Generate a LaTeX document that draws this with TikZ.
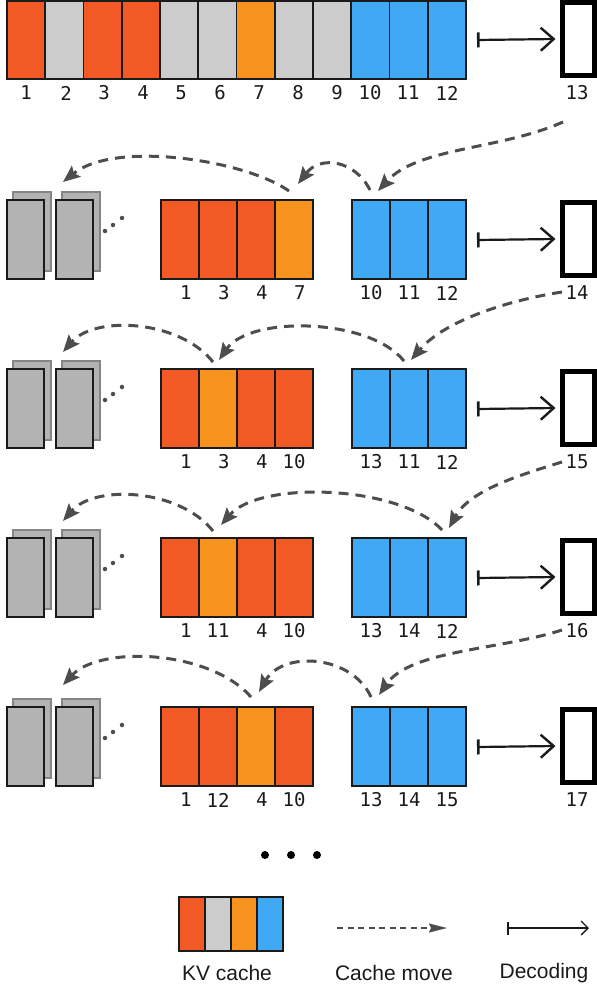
\documentclass[tikz,border=0pt]{standalone}
\usepackage{fontspec}
\setmainfont{Liberation Sans}
\newfontfamily\monofnt{DejaVu Sans Mono}
\usetikzlibrary{arrows.meta}
\definecolor{kvred}{HTML}{F15A24}
\definecolor{kvgray}{HTML}{CCCCCC}
\definecolor{kvorange}{HTML}{F7931E}
\definecolor{kvblue}{HTML}{3FA9F5}
\definecolor{offgray}{HTML}{B3B3B3}
\definecolor{offedge}{HTML}{858585}
\definecolor{movegray}{HTML}{4D4D4D}
\definecolor{inkc}{HTML}{1A1A1A}
\newcommand\padnum[1]{\phantom{0}#1}
\begin{document}
\begin{tikzpicture}[x=1pt,y=1pt,
  cell/.style={draw=inkc, line width=1.6pt, inner sep=0pt, outer sep=0pt,
    minimum width=38pt, minimum height=79pt, anchor=north west},
  topcell/.style={cell, minimum width=38.25pt, minimum height=78pt},
  outbox/.style={draw=black, line width=5pt, fill=white, inner sep=0pt, outer sep=0pt,
    minimum width=32pt, minimum height=73pt, anchor=north west},
  backbox/.style={draw=offedge, fill=offgray, line width=1.5pt, inner sep=0pt, outer sep=0pt,
    minimum width=38pt, minimum height=79pt, anchor=north west},
  frontbox/.style={draw=inkc, fill=offgray, line width=1.6pt, inner sep=0pt, outer sep=0pt,
    minimum width=37pt, minimum height=79pt, anchor=north west},
  num/.style={font=\monofnt\fontsize{19}{22}\selectfont, text=inkc, inner sep=0pt},
  legtext/.style={font=\fontsize{21}{24}\selectfont, text=inkc, inner sep=0pt},
  decode/.style={draw=inkc, line width=2.2pt,
    {Bar[width=15pt,line width=2.6pt]}-{Straight Barb[length=13pt,width=23pt,line width=2.4pt]}},
  move/.style={draw=movegray, line width=3pt, dash pattern=on 10pt off 7pt,
    -{Stealth[length=17pt,width=14pt,inset=3pt]}},
  smalldot/.style={circle, fill=movegray, inner sep=0pt, minimum size=4.5pt},
  bigdot/.style={circle, fill=black, inner sep=0pt, minimum size=8pt}
]
\useasboundingbox (0,0) rectangle (597,-991);

% ---------- top row ----------
\foreach \i/\c in {1/kvred,2/kvgray,3/kvred,4/kvred,5/kvgray,6/kvgray,7/kvorange,8/kvgray,9/kvgray,10/kvblue,11/kvblue,12/kvblue}{
  \node[topcell, fill=\c] (t\i) at ({7+38.25*(\i-1)},-0.8) {};
}
\foreach \i/\x in {1/26,2/66,3/104,4/143,5/181,6/220,7/259,8/298,9/337,10/370,11/408,12/447}{
  \node[num] (tl\i) at (\x,-93) {\i};
}
\node[outbox] (tbox) at (562.5,-2.5) {};
\node[num] (tboxl) at (577,-93) {13};
\draw[decode] ([xshift=11pt]t12.east |- 0,-40) -- ([xshift=-7pt]tbox.west);

% ---------- rows ----------
\foreach \T/\rn/\ca/\cb/\cc/\cd/\la/\lb/\lc/\ld/\ba/\bb/\bc/\bx in {
  200/2/kvred/kvred/kvred/kvorange/\padnum{1}/\padnum{3}/\padnum{4}/\padnum{7}/10/11/12/14,
  369/3/kvred/kvorange/kvred/kvred/\padnum{1}/\padnum{3}/\padnum{4}/10/13/11/12/15,
  538/4/kvred/kvorange/kvred/kvred/\padnum{1}/11/\padnum{4}/10/13/14/12/16,
  707/5/kvred/kvred/kvorange/kvred/\padnum{1}/12/\padnum{4}/10/13/14/15/17}{
  % offloaded stacks
  \node[backbox] (r\rn g1b) at (13,{-\T+8}) {};
  \node[frontbox] (r\rn g1f) at (7,-\T) {};
  \node[backbox] (r\rn g2b) at (62,{-\T+8}) {};
  \node[frontbox] (r\rn g2f) at (56,-\T) {};
  \node[smalldot] (r\rn d1) at (105,{-\T-31}) {};
  \node[smalldot] (r\rn d2) at (113,{-\T-25}) {};
  \node[smalldot] (r\rn d3) at (122,{-\T-18}) {};
  % cache cells
  \node[cell, fill=\ca] (r\rn o1) at (161,-\T) {};
  \node[cell, fill=\cb] (r\rn o2) at (199,-\T) {};
  \node[cell, fill=\cc] (r\rn o3) at (237,-\T) {};
  \node[cell, fill=\cd] (r\rn o4) at (275,-\T) {};
  \node[cell, fill=kvblue] (r\rn b1) at (352,-\T) {};
  \node[cell, fill=kvblue] (r\rn b2) at (390,-\T) {};
  \node[cell, fill=kvblue] (r\rn b3) at (428,-\T) {};
  % labels
  \node[num] (r\rn lo1) at (180,{-\T-93}) {\la};
  \node[num] (r\rn lo2) at (218,{-\T-93}) {\lb};
  \node[num] (r\rn lo3) at (256,{-\T-93}) {\lc};
  \node[num] (r\rn lo4) at (294,{-\T-93}) {\ld};
  \node[num] (r\rn lb1) at (371,{-\T-93}) {\ba};
  \node[num] (r\rn lb2) at (409,{-\T-93}) {\bb};
  \node[num] (r\rn lb3) at (447,{-\T-93}) {\bc};
  % output box
  \node[outbox] (r\rn box) at (562.5,{-\T-2.5}) {};
  \node[num] (r\rn boxl) at (577,{-\T-93}) {\bx};
  \coordinate (r\rn dec) at (477,{-\T-40});
  \draw[decode] (r\rn dec) -- ([xshift=-7pt]r\rn box.west);
}

% ---------- cache moves ----------
\coordinate (m2s) at (563,-122);   \coordinate (m2t) at (378,-191);
\coordinate (m2bs) at (370,-190);  \coordinate (m2bt) at (298,-184);
\coordinate (m2os) at (289,-191);  \coordinate (m2ot) at (63,-182);
\draw[move] (m2s) .. controls (500,-150) and (418,-147) .. (m2t);
\draw[move] (m2bs) .. controls (355,-160) and (320,-155) .. (m2bt);
\draw[move] (m2os) .. controls (245,-160) and (115,-140) .. (m2ot);

\coordinate (m3s) at (562,-292);   \coordinate (m3t) at (411,-360);
\coordinate (m3bs) at (404,-361);  \coordinate (m3bt) at (219,-360);
\coordinate (m3os) at (213,-362);  \coordinate (m3ot) at (63,-352);
\draw[move] (m3s) .. controls (510,-300) and (445,-320) .. (m3t);
\draw[move] (m3bs) .. controls (370,-318) and (250,-315) .. (m3bt);
\draw[move] (m3os) .. controls (180,-320) and (95,-315) .. (m3ot);

\coordinate (m4s) at (562,-462);   \coordinate (m4t) at (449,-528);
\coordinate (m4bs) at (442,-530);  \coordinate (m4bt) at (221,-525);
\coordinate (m4os) at (213,-531);  \coordinate (m4ot) at (63,-521);
\draw[move] (m4s) .. controls (520,-475) and (470,-490) .. (m4t);
\draw[move] (m4bs) .. controls (400,-485) and (260,-480) .. (m4bt);
\draw[move] (m4os) .. controls (180,-489) and (95,-484) .. (m4ot);

\coordinate (m5s) at (562,-630);   \coordinate (m5t) at (379,-695);
\coordinate (m5bs) at (371,-697);  \coordinate (m5bt) at (259,-692);
\coordinate (m5os) at (251,-697);  \coordinate (m5ot) at (63,-685);
\draw[move] (m5s) .. controls (500,-650) and (410,-650) .. (m5t);
\draw[move] (m5bs) .. controls (352,-655) and (283,-650) .. (m5bt);
\draw[move] (m5os) .. controls (210,-650) and (100,-645) .. (m5ot);

% ---------- ellipsis ----------
\node[bigdot] (e1) at (265,-855) {};
\node[bigdot] (e2) at (291,-855) {};
\node[bigdot] (e3) at (317,-855) {};

% ---------- legend ----------
\foreach \i/\c in {1/kvred,2/kvgray,3/kvorange,4/kvblue}{
  \node[cell, fill=\c, minimum width=26pt, minimum height=54pt] (k\i) at ({179+26*(\i-1)},-897) {};
}
\node[legtext] (kvl) at (227,-973) {KV cache};
\coordinate (lm1) at (337,-928);
\coordinate (lm2) at (447,-928);
\draw[draw=movegray, line width=1.5pt, dash pattern=on 6pt off 4.5pt,
  -{Stealth[length=18pt,width=9pt,inset=2pt]}] (lm1) -- (lm2);
\node[legtext] (cml) at (394,-973) {Cache move};
\coordinate (ld1) at (507,-928);
\coordinate (ld2) at (589,-928);
\draw[draw=inkc, line width=1.3pt,
  {Bar[width=13pt,line width=1.5pt]}-{Straight Barb[length=7pt,width=14pt,line width=1.3pt]}] (ld1) -- (ld2);
\node[legtext] (decl) at (544,-973) {Decoding};
\end{tikzpicture}
\end{document}
